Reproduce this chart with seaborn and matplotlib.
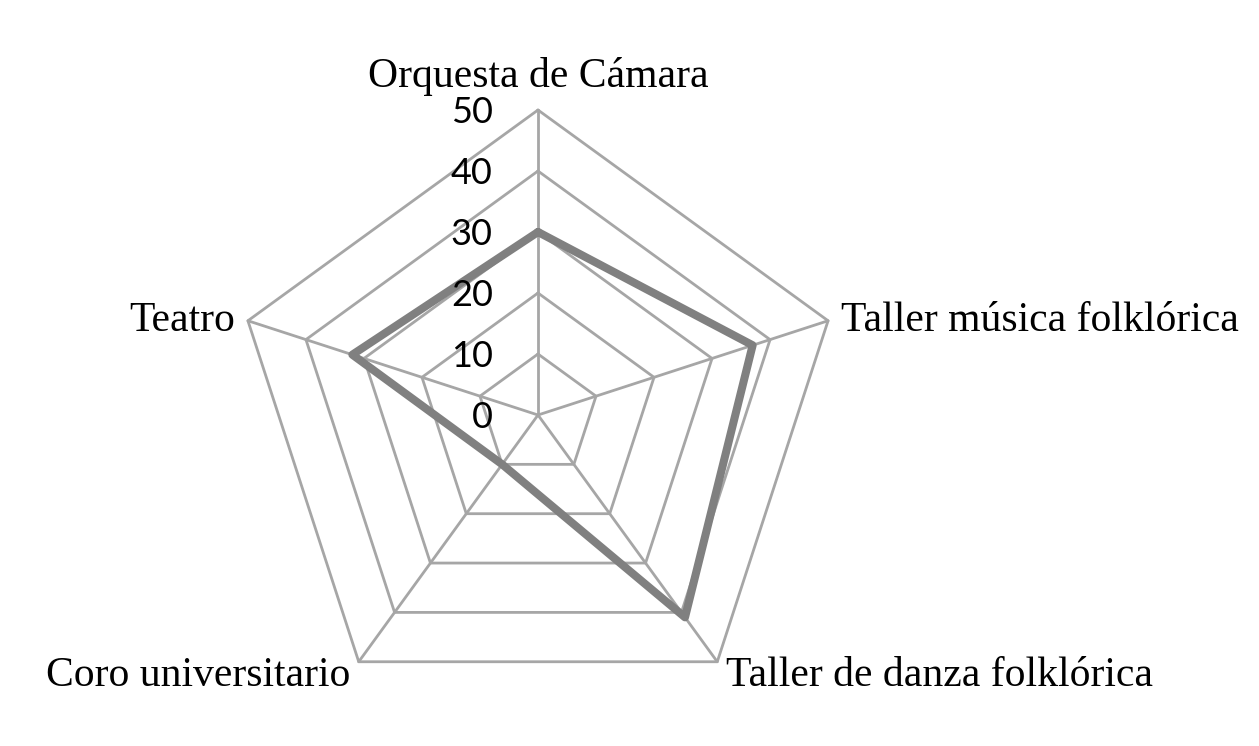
import numpy as np
import pandas as pd
import seaborn as sns
import matplotlib.pyplot as plt

# Data
categories = ['Orquesta de Cámara', 'Taller música folklórica', 'Taller de danza folklórica',
              'Coro universitario', 'Teatro']
values = [30, 37, 41, 10, 32]
ticks = [0, 10, 20, 30, 40, 50]

sns.set_style("white")
plt.rcParams['font.family'] = ['Liberation Serif', 'DejaVu Serif']

n = len(categories)
r_max = ticks[-1]
# start at the top, go clockwise
angles = np.pi / 2 - 2 * np.pi * np.arange(n) / n

fig = plt.figure(figsize=(12.59, 7.46), dpi=100)
ax = fig.add_axes([0, 0, 1, 1])
scale = 305 / r_max  # pixels per unit

grid_col = '#a6a6a6'
# rings
for t in ticks[1:]:
    xs = np.append(t * np.cos(angles), t * np.cos(angles[0]))
    ys = np.append(t * np.sin(angles), t * np.sin(angles[0]))
    ax.plot(xs, ys, color=grid_col, lw=2.0, zorder=1)
# spokes
for a in angles:
    ax.plot([0, r_max * np.cos(a)], [0, r_max * np.sin(a)], color=grid_col, lw=2.0, zorder=1)

# data line
df = pd.DataFrame({
    'x': [v * np.cos(a) for v, a in zip(values, angles)],
    'y': [v * np.sin(a) for v, a in zip(values, angles)],
})
df = pd.concat([df, df.iloc[[0]]], ignore_index=True)
sns.lineplot(data=df, x='x', y='y', sort=False, color='#808080', lw=5.8,
             ax=ax, zorder=3, estimator=None)
ax.set_xlim(-538 / scale, (1259 - 538) / scale)
ax.set_ylim(-(746 - 415) / scale, 415 / scale)
ax.axis('off')

# tick labels
for t in ticks:
    ax.annotate(str(t), (-7.4, t), xytext=(0, -1.5), textcoords='offset points',
                ha='right', va='center', fontsize=26,
                family=['Lato', 'DejaVu Sans'], color='black', zorder=4)

# category labels
offsets = [(0, 10), (9, 0), (6, -10), (-6, -10), (-9, 0)]
aligns = [('center', 'bottom'), ('left', 'center'), ('left', 'center'),
          ('right', 'center'), ('right', 'center')]
for cat, a, off, (ha, va) in zip(categories, angles, offsets, aligns):
    ax.annotate(cat, (r_max * np.cos(a), r_max * np.sin(a)), xytext=off,
                textcoords='offset points', ha=ha, va=va, fontsize=30, color='black')

fig.savefig('out.png', dpi=100, facecolor='white')
